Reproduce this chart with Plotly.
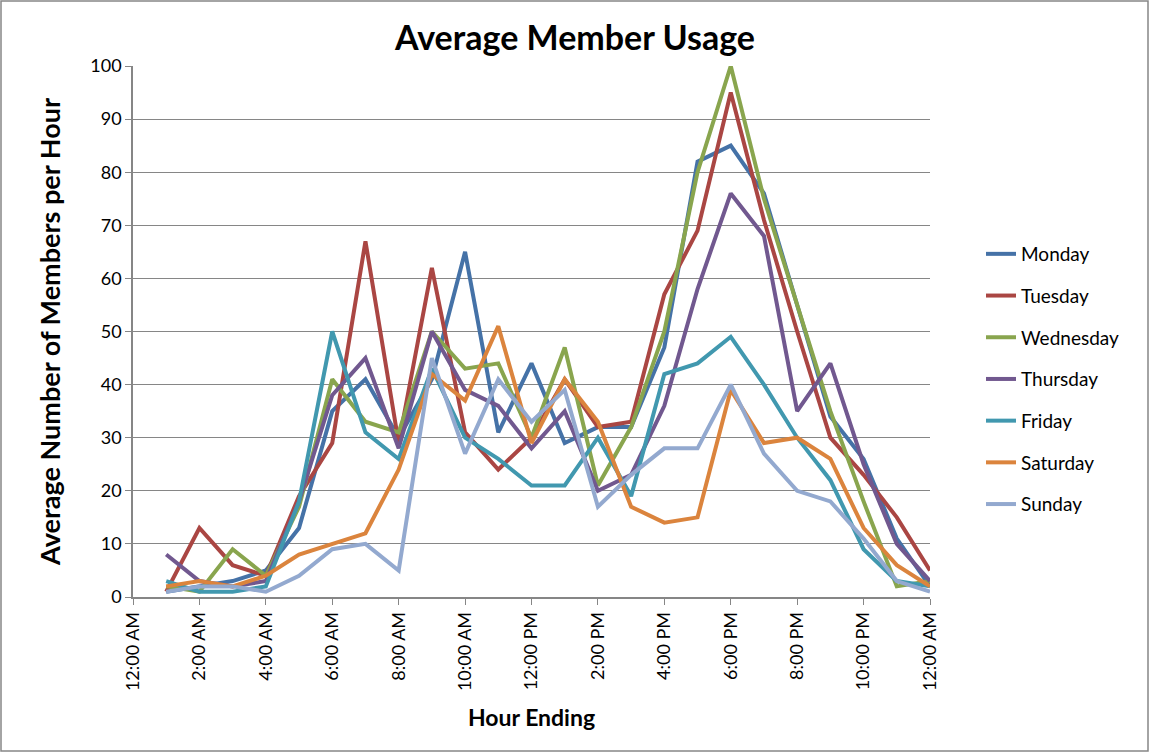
import plotly.graph_objects as go

hours = list(range(1, 25))
tick_vals = [0, 2, 4, 6, 8, 10, 12, 14, 16, 18, 20, 22, 24]
tick_text = ["12:00 AM", "2:00 AM", "4:00 AM", "6:00 AM", "8:00 AM", "10:00 AM",
             "12:00 PM", "2:00 PM", "4:00 PM", "6:00 PM", "8:00 PM", "10:00 PM", "12:00 AM"]

monday = [1, 2, 3, 5, 13, 35, 41, 30, 41, 65, 31, 44, 29, 32, 32, 47, 82, 85, 76, 55, 34, 26, 11, 2]
tuesday = [1, 13, 6, 4, 19, 29, 67, 29, 62, 31, 24, 30, 41, 32, 33, 57, 69, 95, 71, 50, 30, 23, 15, 5]
wednesday = [2, 1, 9, 4, 17, 41, 33, 31, 50, 43, 44, 30, 47, 21, 32, 50, 80, 100, 75, 55, 35, 18, 2, 3]
thursday = [8, 3, 2, 3, 18, 38, 45, 28, 50, 39, 36, 28, 35, 20, 23, 36, 58, 76, 68, 35, 44, 25, 10, 3]
friday = [3, 1, 1, 2, 18, 50, 31, 26, 43, 30, 26, 21, 21, 30, 19, 42, 44, 49, 40, 30, 22, 9, 3, 2]
saturday = [2, 3, 2, 4, 8, 10, 12, 24, 42, 37, 51, 29, 41, 33, 17, 14, 15, 39, 29, 30, 26, 13, 6, 2]
sunday = [1, 2, 2, 1, 4, 9, 10, 5, 45, 27, 41, 33, 39, 17, 23, 28, 28, 40, 27, 20, 18, 11, 3, 1]

series = [
    ("Monday", monday, "#4572A7"),
    ("Tuesday", tuesday, "#AA4643"),
    ("Wednesday", wednesday, "#89A54E"),
    ("Thursday", thursday, "#71588F"),
    ("Friday", friday, "#4198AF"),
    ("Saturday", saturday, "#DB843D"),
    ("Sunday", sunday, "#93A9CF"),
]

FONT = "Lato"

fig = go.Figure()
for name, vals, color in series:
    fig.add_trace(go.Scatter(
        x=hours, y=vals, name=name, mode="lines", legendgroup=name,
        line=dict(color=color, width=4),
    ))

L, R, T, B = 133, 220, 66, 156
W, H = 1150, 753
pw, ph = W - L - R, H - T - B

fig.update_layout(
    width=W, height=H,
    margin=dict(l=L, r=R, t=T, b=B),
    paper_bgcolor="white", plot_bgcolor="white",
    font=dict(family=FONT, color="black"),
    title=dict(text="<b>Average Member Usage</b>", x=0.5, xanchor="center",
               y=1 - 38 / H, yanchor="middle", font=dict(size=34, family=FONT)),
    legend=dict(x=1.064, xanchor="left", y=(597 - 379) / ph, yanchor="middle",
                font=dict(size=19, family=FONT), tracegroupgap=14,
                bgcolor="rgba(0,0,0,0)"),
    shapes=[dict(type="rect", xref="paper", yref="paper",
                 x0=(1 - L) / pw, x1=(W - 2 - L) / pw,
                 y0=-(H - 2 - T - ph) / ph, y1=(ph + T - 1) / ph,
                 line=dict(color="#868686", width=1.5))],
)
fig.update_xaxes(
    range=[0, 24], tickvals=tick_vals, ticktext=tick_text, tickangle=-90,
    showgrid=False, showline=True, linecolor="#868686", linewidth=1.5,
    ticks="outside", ticklen=6, tickcolor="#868686",
    tickfont=dict(size=18, family=FONT),
    title=dict(text="<b>Hour Ending</b>", font=dict(size=23, family=FONT), standoff=20),
    zeroline=False,
)
fig.update_yaxes(
    range=[0, 100], dtick=10, showgrid=True, gridcolor="#868686", gridwidth=1,
    showline=True, linecolor="#868686", linewidth=1.5,
    ticks="outside", ticklen=6, tickcolor="#868686",
    tickfont=dict(size=18, family=FONT),
    title=dict(text="<b>Average Number of Members per Hour</b>", font=dict(size=27, family=FONT), standoff=22),
    zeroline=False,
)

fig.write_html("out.html", config={"displayModeBar": False},
               post_script="document.body.style.margin='0';document.body.style.overflow='hidden';")
